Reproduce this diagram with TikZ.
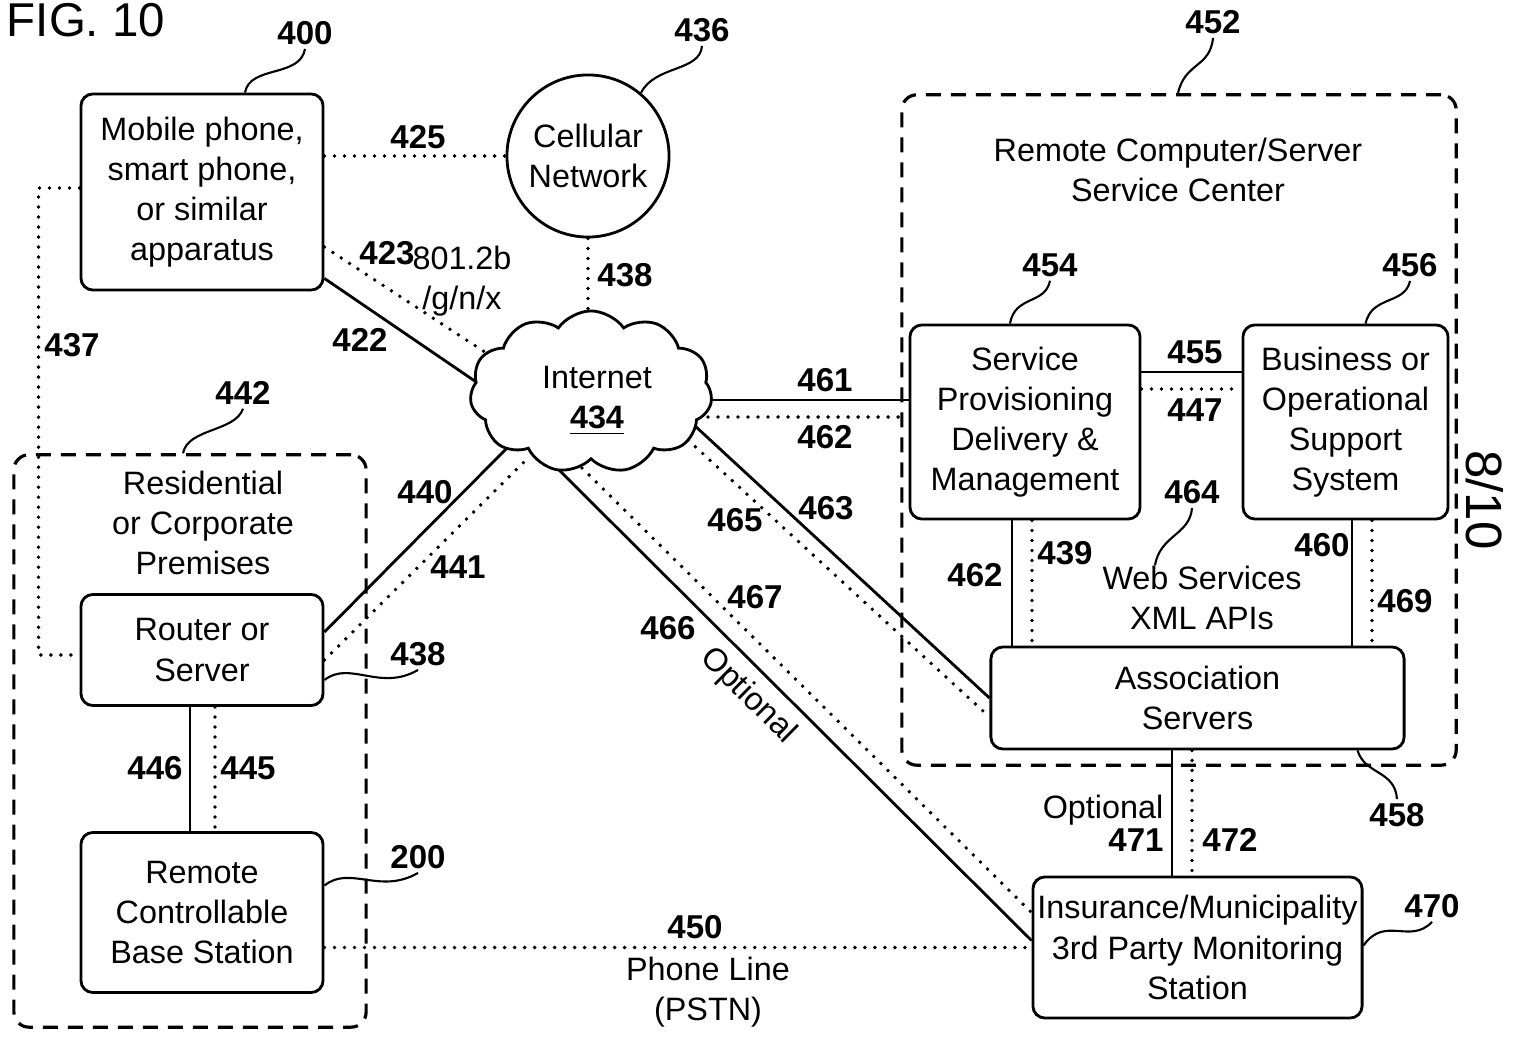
\documentclass[tikz,border=0pt]{standalone}
\usepackage{fontspec}
\setmainfont{Liberation Sans}
\usetikzlibrary{shapes.symbols,calc,backgrounds}
\tikzstyle{unit} = [draw, line width=0.8pt, rounded corners=0.12cm, align=center, inner sep=0pt]
\tikzstyle{group} = [draw, line width=0.9pt, dash pattern=on 0.15cm off 0.1cm, rounded corners=0.15cm, inner sep=0pt]
\tikzstyle{wire} = [line width=0.8pt]
\tikzstyle{dots} = [line width=1.1pt, dash pattern=on 0pt off 0.1cm, line cap=round]
\tikzstyle{lead} = [line width=0.6pt]
\tikzstyle{refno} = [font=\fontsize{9.4}{11}\selectfont\bfseries, inner sep=1pt]
\tikzstyle{txt} = [align=center, inner sep=0pt]

\begin{document}
\begin{tikzpicture}[x=0.01cm, y=-0.01cm, font=\fontsize{9.2}{11.4}\selectfont]
\useasboundingbox (0,0) rectangle (1515,1037);
% groups
\node[group, minimum width=3.52cm, minimum height=5.72cm] (res) at (190,741) {};
\node[group, minimum width=5.54cm, minimum height=6.70cm] (rcs) at (1179,430) {};
\node[txt] (restitle) at (203,523) {Residential\\or Corporate\\Premises};
\node[txt] (rcstitle) at (1178,170) {Remote Computer/Server\\Service Center};
% units
\node[unit, minimum width=2.42cm, minimum height=1.96cm] (mob) at (202,192) {Mobile phone,\\smart phone,\\or similar\\apparatus};
\node[unit, circle, minimum size=1.62cm] (cell) at (588,156) {Cellular\\Network};
\node[cloud, draw, fill=white, line width=0.8pt, cloud puffs=11, cloud puff arc=110, aspect=1.5, minimum width=2.42cm, minimum height=1.62cm, inner sep=0pt] (net) at (591,392) {};
\node[txt] (nettext) at (597,401) {Internet\\\underline{\textbf{434}}};
\node[unit, minimum width=2.42cm, minimum height=1.11cm] (rtr) at (202,650) {Router or\\Server};
\node[unit, minimum width=2.42cm, minimum height=1.60cm] (base) at (202,912.5) {Remote\\Controllable\\Base Station};
\node[unit, minimum width=2.30cm, minimum height=1.94cm] (spd) at (1025,422) {Service\\Provisioning\\Delivery \&\\Management};
\node[unit, minimum width=2.05cm, minimum height=1.94cm] (bos) at (1345.5,422) {Business or\\Operational\\Support\\System};
\node[unit, minimum width=4.13cm, minimum height=1.02cm] (asv) at (1197.5,698) {Association\\Servers};
\node[unit, minimum width=3.29cm, minimum height=1.41cm] (ins) at (1197.5,947.5) {Insurance/Municipality\\3rd Party Monitoring\\Station};
\node[txt] (web) at (1202,598) {Web Services\\XML APIs};
% free ends inside the cloud
\coordinate (n423) at ($(net.center)+(-91,-30)$);
\coordinate (n422) at ($(net.center)+(-106,-4)$);
\coordinate (n440) at ($(net.center)+(-80,52)$);
\coordinate (n441) at ($(net.center)+(-65,68)$);
\coordinate (n461) at ($(net.center)+(109,8)$);
\coordinate (n462) at ($(net.center)+(107,25)$);
\coordinate (n463) at ($(net.center)+(103,33)$);
\coordinate (n465) at ($(net.center)+(97,48)$);
\coordinate (n466) at ($(net.center)+(-34,76)$);
\coordinate (n467) at ($(net.center)+(-9,76)$);
% connectors
\begin{pgfonlayer}{background}
\draw[dots] (mob.east |- cell.west) -- (cell.west);
\draw[dots] ($(mob.east)+(0,55)$) -- (n423);
\draw[wire] ($(mob.south east)+(0,-13)$) -- (n422);
\draw[dots] ($(mob.west)+(0,-4)$) -- ++(-41,0) |- ($(rtr.west)+(0,5)$);
\draw[dots] (cell.south) -- (cell.south |- net.center);
\draw[wire] ($(rtr.east)+(0,-18)$) -- (n440);
\draw[dots] ($(rtr.east)+(0,10)$) -- (n441);
\draw[wire] ($(rtr.south)+(-12,0)$) -- ($(base.north)+(-12,0)$);
\draw[dots] ($(rtr.south)+(13,0)$) -- ($(base.north)+(13,0)$);
\draw[dots] ($(base.east)+(0,35)$) -- (ins.west);
\draw[wire] (n461) -- (n461 -| spd.west);
\draw[dots] (n462) -- ($(n462 -| spd.west)+(-6,0)$);
\draw[wire] (n463) -- (asv.west);
\draw[dots] (n465) -- ($(asv.west)+(0,19)$);
\draw[wire] (n466) -- ($(ins.west)+(0,-7)$);
\draw[dots] (n467) -- ($(ins.west)+(0,-35)$);
\draw[wire] ($(spd.east)+(0,-50)$) -- ($(bos.west)+(0,-50)$);
\draw[dots] ($(spd.east)+(0,-33)$) -- ($(bos.west)+(0,-33)$);
\draw[wire] ($(spd.south)+(-13,0)$) -- ($(spd.south |- asv.north)+(-13,0)$);
\draw[dots] ($(spd.south)+(7,0)$) -- ($(spd.south |- asv.north)+(7,0)$);
\draw[wire] ($(bos.south)+(6.5,0)$) -- ($(bos.south |- asv.north)+(6.5,0)$);
\draw[dots] ($(bos.south)+(26.5,0)$) -- ($(bos.south |- asv.north)+(26.5,0)$);
\draw[wire] ($(asv.south)+(-25.5,0)$) -- ($(ins.north)+(-25.5,0)$);
\draw[dots] ($(asv.south)+(-5.5,0)$) -- ($(ins.north)+(-5.5,0)$);
\end{pgfonlayer}
% reference numbers
\node[font=\fontsize{13.5}{15}\selectfont] (fig) at (86,20) {FIG. 10};
\node[font=\fontsize{14.5}{16}\selectfont, rotate=-90] (page) at (1485,500) {8/10};
\node[refno] (l400) at (305,33) {400};
\node[refno] (l425) at (418,137) {425};
\node[refno] (l436) at (702,30) {436};
\node[refno] (l423) at (387,253) {423};
\node[txt] (wifi) at (462,281) {801.2b\\/g/n/x};
\node[refno] (l422) at (360,340) {422};
\node[refno] (l437) at (72,345) {437};
\node[refno] (l438a) at (625,275) {438};
\node[refno] (l442) at (243,393) {442};
\node[refno] (l440) at (425,492) {440};
\node[refno] (l441) at (458,567) {441};
\node[refno] (l438b) at (418,654) {438};
\node[refno] (l446) at (155,768) {446};
\node[refno] (l445) at (248,768) {445};
\node[refno] (l200) at (418,857) {200};
\node[refno] (l450) at (695,927) {450};
\node[txt] (pstn) at (708,992) {Phone Line\\(PSTN)};
\node[refno] (l452) at (1213,22) {452};
\node[refno] (l454) at (1050,265) {454};
\node[refno] (l456) at (1410,265) {456};
\node[refno] (l461) at (825,380) {461};
\node[refno] (l462a) at (825,437) {462};
\node[refno] (l455) at (1195,352) {455};
\node[refno] (l447) at (1195,410) {447};
\node[refno] (l464) at (1192,492) {464};
\node[refno] (l463) at (826,508) {463};
\node[refno] (l465) at (735,520) {465};
\node[refno] (l439) at (1065,553) {439};
\node[refno] (l462b) at (975,575) {462};
\node[refno] (l460) at (1322,545) {460};
\node[refno] (l469) at (1405,601) {469};
\node[refno] (l467) at (755,597) {467};
\node[refno] (l466) at (668,628) {466};
\node[txt, rotate=-44.7] (opt466) at (748,696) {Optional};
\node[refno] (l458) at (1397,815) {458};
\node[txt] (opt471) at (1103,810) {Optional};
\node[refno] (l471) at (1136,840) {471};
\node[refno] (l472) at (1230,840) {472};
\node[refno] (l470) at (1432,906) {470};
% leaders
\draw[lead] ($(mob.north)+(43,0)$) .. controls (250,65) and (300,78) .. (l400.south);
\draw[lead] (cell.50) .. controls (655,65) and (700,72) .. (l436.south);
\draw[lead] ($(rcs.north)+(-1,0)$) .. controls (1185,62) and (1210,68) .. (l452.south);
\draw[lead] ($(spd.north)+(-15,0)$) .. controls (1015,295) and (1045,305) .. (l454.south);
\draw[lead] ($(bos.north)+(20,0)$) .. controls (1372,295) and (1405,305) .. (l456.south);
\draw[lead] ($(res.north)+(-7,0)$) .. controls (188,428) and (235,432) .. (l442.south);
\draw[lead] ($(rtr.east)+(0,30)$) .. controls (350,660) and (380,692) .. (l438b.south);
\draw[lead] ($(base.east)+(0,-27)$) .. controls (350,865) and (380,895) .. (l200.south);
\draw[lead] ($(ins.east)+(0,-2)$) .. controls (1385,915) and (1410,945) .. (l470.south);
\draw[lead] ($(asv.south)+(160,0)$) .. controls (1365,775) and (1395,770) .. (l458.north);
\draw[lead] (l464.south) .. controls (1190,535) and (1160,535) .. ($(web.north)+(-47,0)$);
\end{tikzpicture}
\end{document}
